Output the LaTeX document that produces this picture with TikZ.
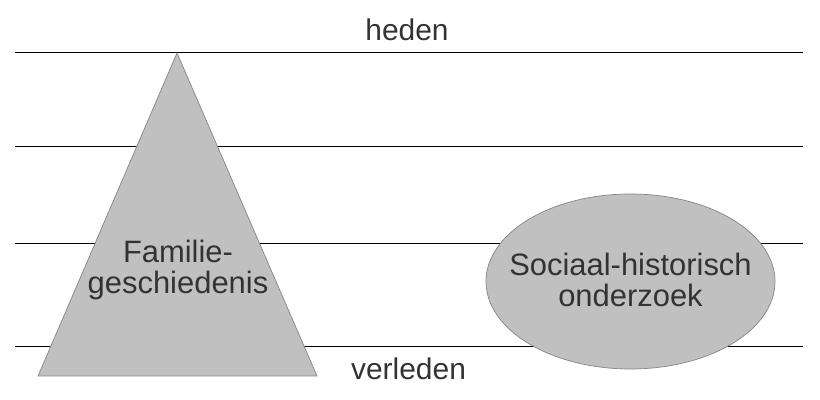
\documentclass[tikz,border=0pt]{standalone}
\usepackage{fontspec}
\setmainfont{Liberation Sans}
\definecolor{shapefill}{HTML}{C0C0C0}
\definecolor{shapeline}{HTML}{858585}
\definecolor{labeltext}{HTML}{333333}

\begin{document}
\begin{tikzpicture}[
    timeline/.style={black, line width=0.7pt},
    grayform/.style={draw=shapeline, fill=shapefill, line width=0.5pt},
    label/.style={text=labeltext, font=\fontsize{22}{22}\selectfont, align=center},
    era/.style={text=labeltext, font=\fontsize{21.3}{22}\selectfont, anchor=base}
  ]
                \useasboundingbox (0,0) rectangle (20.5,10);

                % Time lines
                \foreach \y in {8.675, 6.325, 3.925, 1.35} {
                    \draw[timeline] (0.375,\y) -- (20.075,\y);
                }

                % Triangle (family history)
                \coordinate (apex) at (4.425,8.675);
                \coordinate (left) at (0.95,0.6);
                \coordinate (right) at (7.925,0.6);
                \draw[grayform] (apex) -- (left) -- (right) -- cycle;
                \node[label] (familie) at (4.45,3.25) {Familie-\\geschiedenis};

                % Ellipse (social history research)
                \coordinate (mid) at (15.7625,2.9625);
                \draw[grayform] (mid) ellipse [x radius=3.6125, y radius=2.1875];
                \node[label] (onderzoek) at (15.7625,3.0125) {Sociaal-historisch\\onderzoek};

                % Present and past
                \node[era] (heden) at (10.175,8.975) {heden};
                \node[era] (verleden) at (10.2125,0.5) {verleden};
            \end{tikzpicture}
\end{document}
